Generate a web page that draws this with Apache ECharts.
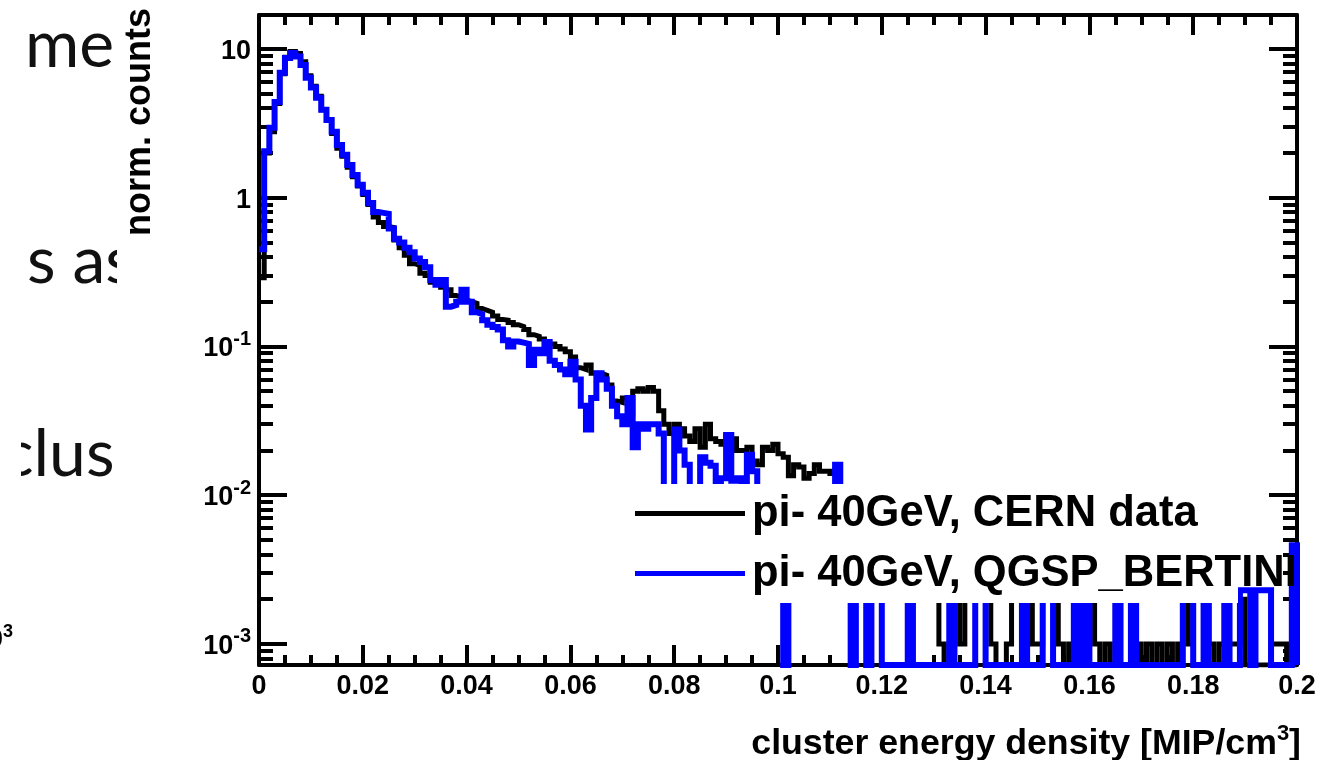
<!DOCTYPE html>
<html><head><meta charset="utf-8">
<script src="https://cdn.jsdelivr.net/npm/echarts@6/dist/echarts.min.js"></script>
<style>html,body{margin:0;padding:0;background:#fff}#c{width:1339px;height:760px}</style>
</head><body><div id="c"></div><script>
// ---- data ----
const binWidth = 0.001;
const xMin = 0, xMax = 0.2, xTickStep = 0.02;
const yMin = 7.22e-4, yMax = 16.9;
const yMajorTicks = [0.001, 0.01, 0.1, 1, 10];
const yMinorTicks = [8e-4, 9e-4,
  2e-3, 3e-3, 4e-3, 5e-3, 6e-3, 7e-3, 8e-3, 9e-3,
  2e-2, 3e-2, 4e-2, 5e-2, 6e-2, 7e-2, 8e-2, 9e-2,
  0.2, 0.3, 0.4, 0.5, 0.6, 0.7, 0.8, 0.9,
  2, 3, 4, 5, 6, 7, 8, 9];
const seriesNames = ['pi- 40GeV, CERN data', 'pi- 40GeV, QGSP_BERTINI'];
const xTitle = 'cluster energy density [MIP/cm';
const yTitle = 'norm. counts';

// bin contents, bins of width 0.001 from 0 to 0.2
const cernData = [
  0.29, 2.0, 2.77, 4.3, 6.8, 8.8, 9.6, 9.3, 8.2, 6.6,
  5.6, 4.8, 3.9, 3.3, 2.7, 2.15, 1.9, 1.6, 1.38, 1.2,
  1.05, 0.9, 0.74, 0.68, 0.64, 0.63, 0.52, 0.46, 0.41, 0.36,
  0.35, 0.31, 0.3, 0.27, 0.265, 0.25, 0.24, 0.22, 0.215, 0.205,
  0.2, 0.195, 0.18, 0.175, 0.17, 0.16, 0.152, 0.15, 0.145, 0.14,
  0.136, 0.13, 0.12, 0.117, 0.112, 0.108, 0.104, 0.1, 0.096, 0.092,
  0.085, 0.072, 0.07, 0.075, 0.066, 0.066, 0.064, 0.055, 0.043, 0.042,
  0.045, 0.035, 0.05, 0.052, 0.05, 0.053, 0.05, 0.037, 0.03, 0.026,
  0.03, 0.028, 0.025, 0.023, 0.028, 0.021, 0.03, 0.024, 0.023, 0.022,
  0.025, 0.024, 0.02, 0.02, 0.021, 0.017, 0.016, 0.021, 0.02, 0.022,
  0.019, 0.018, 0.0135, 0.016, 0.0155, 0.013, 0.014, 0.016, 0.0145, 0.0145,
  0.014, 0.0148, 0.009, 0.008, 0.007, 0.006, 0.008, 0.005, 0.006, 0.007,
  0.005, 0.006, 0.004, 0.005, 0.006, 0.004, 0.005, 0.004, 0.003, 0.005,
  0.004, 0.001, 0, 0.001, 0.002, 0.001, 0.003, 0.002, 0.003, 0.004,
  0.002, 0.001, 0, 0, 0.001, 0.003, 0.002, 0.004, 0.003, 0.001,
  0.001, 0.002, 0.003, 0.002, 0.001, 0, 0.001, 0.002, 0.003, 0.002,
  0.002, 0.001, 0, 0.001, 0, 0.002, 0.003, 0.002, 0.002, 0.001,
  0, 0.001, 0, 0.001, 0, 0.001, 0, 0.001, 0.002, 0.001,
  0.002, 0.003, 0.002, 0.001, 0, 0.001, 0.002, 0.001, 0.001, 0.002,
  0, 0, 0, 0, 0, 0.001, 0.001, 0.001, 0, 0
];
const qgspBertini = [
  0.45, 2.05, 2.95, 4.4, 6.9, 8.7, 9.4, 8.9, 7.8, 6.4,
  5.5, 4.7, 3.9, 3.33, 2.77, 2.26, 1.94, 1.66, 1.42, 1.22,
  1.08, 0.92, 0.8, 0.79, 0.78, 0.62, 0.53, 0.5, 0.46, 0.43,
  0.39, 0.37, 0.34, 0.28, 0.26, 0.28, 0.185, 0.19, 0.2, 0.24,
  0.2, 0.17, 0.165, 0.15, 0.14, 0.135, 0.13, 0.11, 0.1, 0.108,
  0.106, 0.104, 0.075, 0.095, 0.09, 0.107, 0.08, 0.075, 0.07, 0.065,
  0.079, 0.06, 0.04, 0.0276, 0.045, 0.066, 0.06, 0.052, 0.04, 0.034,
  0.03, 0.045, 0.021, 0.03, 0.028, 0.03, 0.03, 0.026, 0.011, 0.009,
  0.0276, 0.02, 0.016, 0.01, 0.011, 0.018, 0.0165, 0.0158, 0.012, 0.013,
  0.0254, 0.0125, 0.013, 0.012, 0.0187, 0.0145, 0.011, 0.009, 0.0075, 0.008,
  0.0065, 0, 0.0065, 0.0055, 0.008, 0.006, 0.005, 0.0075, 0.0045, 0.0055,
  0.005, 0.016, 0.0045, 0.005, 0, 0.0046, 0.0069, 0, 0.0046, 0.0023,
  0, 0, 0, 0, 0, 0.0023, 0, 0, 0, 0,
  0, 0, 0, 0.0046, 0, 0, 0, 0, 0.0023, 0.0046,
  0, 0, 0, 0, 0, 0, 0, 0.0023, 0, 0,
  0, 0.0023, 0.0023, 0, 0, 0, 0, 0.0023, 0, 0.0023,
  0, 0, 0, 0, 0, 0.0046, 0, 0, 0.0023, 0,
  0, 0, 0, 0, 0, 0, 0, 0, 0.0023, 0.0023,
  0, 0, 0.0023, 0, 0, 0, 0.0023, 0, 0, 0.0023,
  0.0023, 0, 0.0023, 0.0023, 0.0023, 0, 0, 0, 0, 0.0046
];

// ---- build histogram step lines (zero bins drawn on the frame bottom, like ROOT) ----
function toSteps(vals) {
  const pts = vals.map((v, i) => [+(i * binWidth).toFixed(3), v > 0 ? v : yMin]);
  const last = vals[vals.length - 1];
  pts.push([xMax, last > 0 ? last : yMin]);
  pts.push([xMax, yMin]);
  return pts;
}

const FONT = 'Liberation Sans';
const black = '#000000', blue = '#0000ff';
const lbl = { color: black, fontFamily: FONT, fontWeight: 'bold', fontSize: 27 };

function yLabel(v) {
  const e = Math.round(Math.log10(v));
  if (e === 0) return '{b|1}';
  if (e === 1) return '{b|10}';
  return '{b|10}{s|' + e + '}';
}

function xAxisCfg(pos, showLabel) {
  return {
    type: 'value', position: pos, min: xMin, max: xMax, interval: xTickStep,
    axisLine: { show: true, onZero: false, lineStyle: { color: black, width: 4 } },
    axisTick: { show: true, inside: true, length: 20, lineStyle: { color: black, width: 4 } },
    minorTick: { show: true, splitNumber: 4, length: 10, lineStyle: { color: black, width: 4 } },
    splitLine: { show: false }, minorSplitLine: { show: false },
    axisLabel: Object.assign({ show: showLabel, margin: 8, formatter: v => String(+v.toFixed(2)) }, lbl)
  };
}
function yAxisCfg(pos, ticks, len, showLine, showLabel) {
  return {
    type: 'log', logBase: 10, position: pos, min: yMin, max: yMax,
    axisLine: { show: showLine, onZero: false, lineStyle: { color: black, width: 4 } },
    axisTick: { show: true, inside: true, length: len, customValues: ticks, lineStyle: { color: black, width: 4 } },
    minorTick: { show: false },
    splitLine: { show: false },
    axisLabel: {
      show: showLabel, customValues: yMajorTicks, margin: 8, formatter: yLabel,
      rich: {
        b: { color: black, fontFamily: FONT, fontWeight: 'bold', fontSize: 27, lineHeight: 34, padding: [5, 0, 0, 0] },
        s: { color: black, fontFamily: FONT, fontWeight: 'bold', fontSize: 20, lineHeight: 20, verticalAlign: 'top' }
      }
    }
  };
}

const chart = echarts.init(document.getElementById('c'), null, { renderer: 'canvas' });
chart.setOption({
  animation: false,
  backgroundColor: '#ffffff',
  grid: { left: 259, top: 15, width: 1038, height: 650, containLabel: false, outerBoundsMode: 'none' },
  xAxis: [xAxisCfg('bottom', true), xAxisCfg('top', false)],
  yAxis: [
    yAxisCfg('left', yMajorTicks, 28, true, true),
    yAxisCfg('left', yMinorTicks, 14, false, false),
    yAxisCfg('right', yMajorTicks, 28, true, false),
    yAxisCfg('right', yMinorTicks, 14, false, false)
  ],
  legend: {
    show: true, orient: 'vertical', left: 635, top: 491, padding: 0,
    itemWidth: 110, itemHeight: 5, itemGap: 15, icon: 'rect', selectedMode: false,
    data: seriesNames,
    textStyle: { color: black, fontFamily: FONT, fontWeight: 'bold', fontSize: 43.5, lineHeight: 45, padding: [0, 0, 0, 2] }
  },
  series: [
    { name: seriesNames[0], type: 'line', step: 'end', data: toSteps(cernData), symbol: 'none', showSymbol: false,
      color: black, lineStyle: { color: black, width: 5, join: 'miter' }, silent: true, z: 2 },
    { name: seriesNames[1], type: 'line', step: 'end', data: toSteps(qgspBertini), symbol: 'none', showSymbol: false,
      color: blue, lineStyle: { color: blue, width: 6, join: 'miter' }, silent: true, z: 2 }
  ],
  graphic: [
    // legend box (white fill, hides the histogram behind it)
    { type: 'rect', shape: { x: 620, y: 484, width: 618, height: 119 }, style: { fill: '#ffffff' }, z: 3, silent: true },
    // axis titles
    { type: 'text', x: 140, y: 8, rotation: Math.PI / 2, z: 5,
      style: { text: yTitle, fill: black, font: 'bold 36px "Liberation Sans"', align: 'right', verticalAlign: 'middle', textAlign: 'right', textVerticalAlign: 'middle' } },
    { type: 'text', x: 1301, y: 744, z: 5,
      style: { text: '{t|' + xTitle + '}{s|3}{t|]}', align: 'right', verticalAlign: 'middle', textAlign: 'right', textVerticalAlign: 'middle',
        rich: {
          t: { fill: black, color: black, fontFamily: FONT, fontWeight: 'bold', fontSize: 35.7, lineHeight: 42 },
          s: { fill: black, color: black, fontFamily: FONT, fontWeight: 'bold', fontSize: 22, lineHeight: 22, verticalAlign: 'top' }
        } } },
    // fragments of the slide text behind the picture
    { type: 'text', x: 25, y: 46, z: 0, style: { text: 'me', fill: '#111', font: '66px Lato', textVerticalAlign: 'middle', verticalAlign: 'middle' } },
    { type: 'text', x: 27, y: 262, z: 0, style: { text: 's as', fill: '#111', font: '66px Lato', textVerticalAlign: 'middle', verticalAlign: 'middle' } },
    { type: 'rect', shape: { x: 117, y: 225, width: 30, height: 80 }, style: { fill: '#ffffff' }, z: 1 },
    { type: 'text', x: 2, y: 455, z: 0, style: { text: 'clus', fill: '#111', font: '66px Lato', textVerticalAlign: 'middle', verticalAlign: 'middle' } },
    { type: 'rect', shape: { x: 0, y: 420, width: 21, height: 70 }, style: { fill: '#ffffff' }, z: 1 },
    { type: 'text', x: 13, y: 640, z: 0,
      style: { text: '{b|10}{s|3}', align: 'right', verticalAlign: 'middle', textAlign: 'right', textVerticalAlign: 'middle',
        rich: {
          b: { fill: black, fontFamily: FONT, fontWeight: 'bold', fontSize: 26, lineHeight: 34 },
          s: { fill: black, fontFamily: FONT, fontWeight: 'bold', fontSize: 18, lineHeight: 18, verticalAlign: 'top' }
        } } }
  ]
});
</script></body></html>
